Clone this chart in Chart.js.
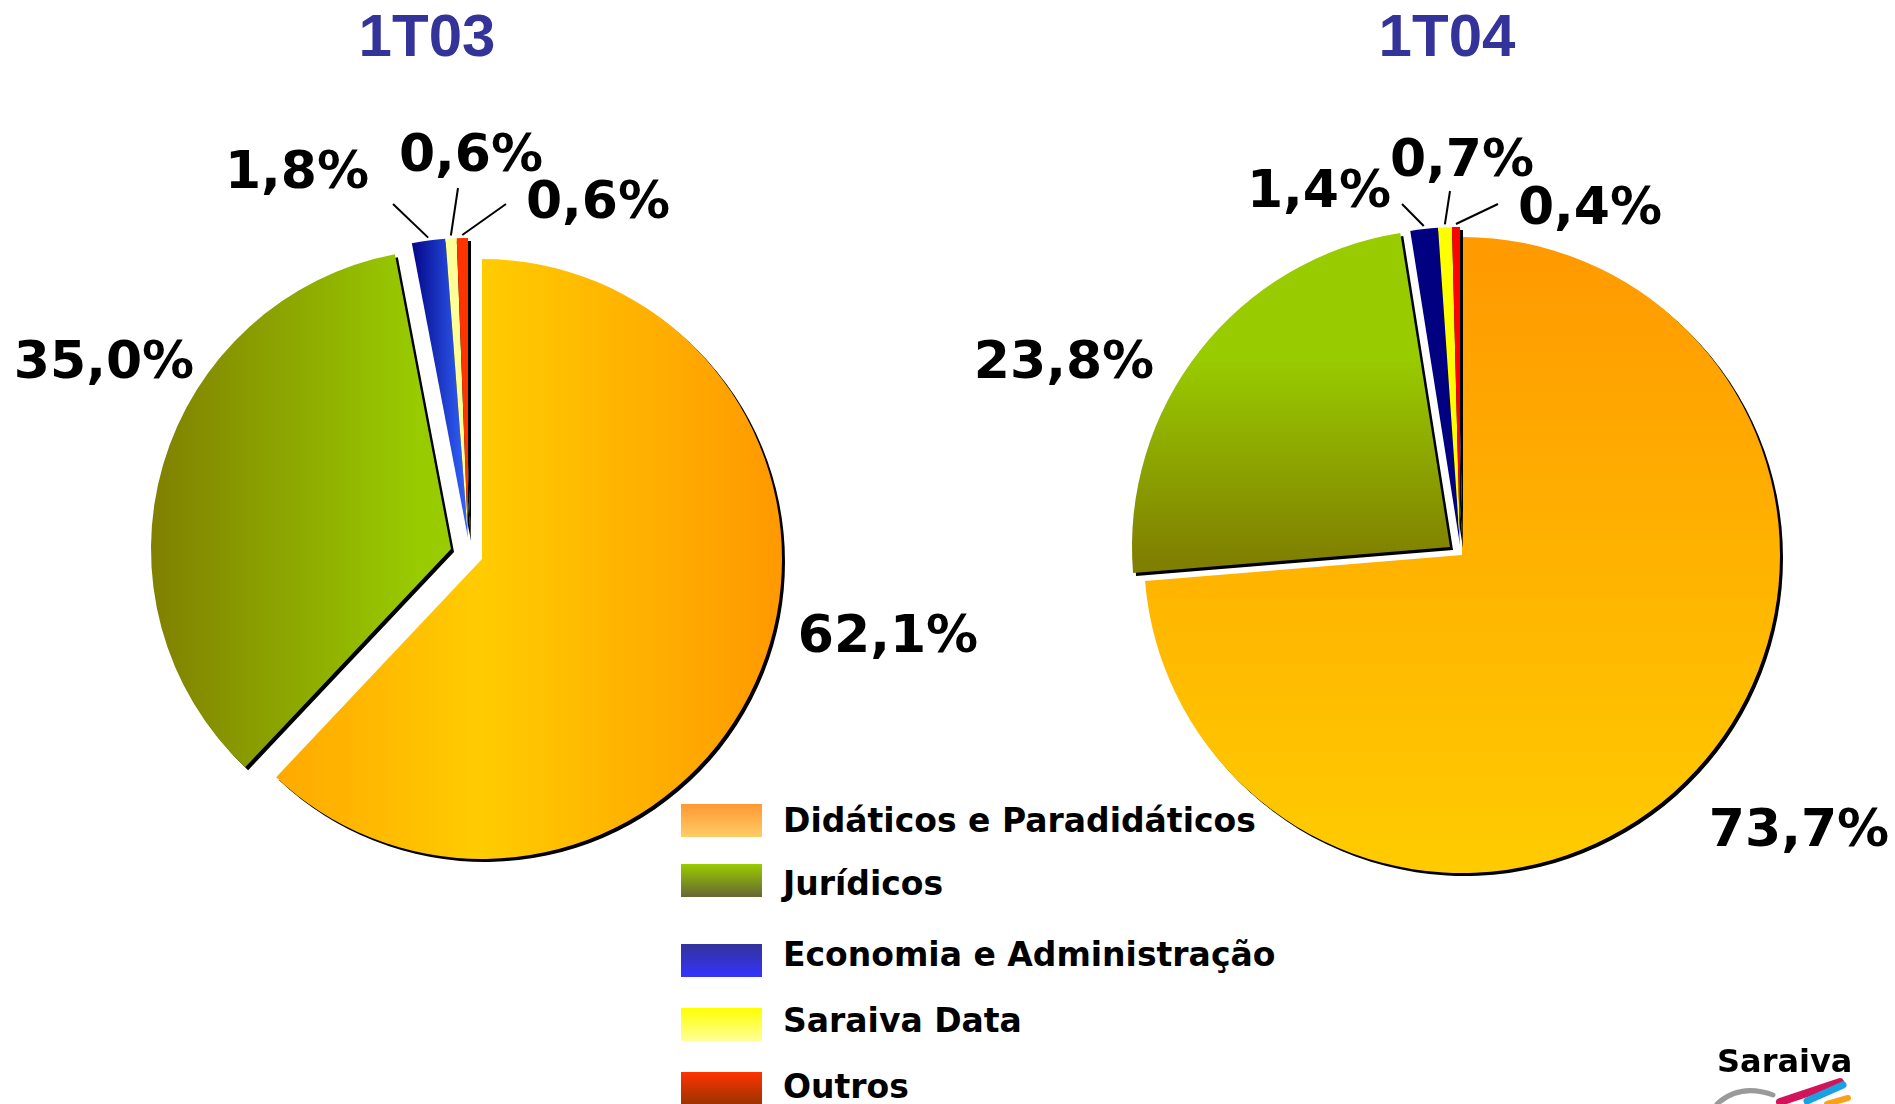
<!DOCTYPE html>
<html lang="pt-BR">
<head>
<meta charset="utf-8">
<title>Vendas por segmento 1T03 x 1T04</title>
<script src="https://cdn.jsdelivr.net/npm/chart.js@4.4.1/dist/chart.umd.min.js"></script>
<style>
  html, body { margin: 0; padding: 0; background: #fff; }
  body { position: relative; width: 1895px; height: 1104px; overflow: hidden; font-family: "DejaVu Sans", sans-serif; }
  canvas { position: absolute; }
  .periodo { position: absolute; top: 6px; width: 240px; text-align: center; font: bold 60px/60px "Liberation Sans", Arial, sans-serif; color: #333399; }
  .leg-cor { position: absolute; left: 681px; width: 81px; height: 33px; }
  .leg-txt { position: absolute; left: 783px; font: bold 33px/33px "DejaVu Sans", sans-serif; color: #000; white-space: nowrap; }
  .marca { position: absolute; left: 1717px; top: 1045px; font: bold 32px/32px "DejaVu Sans", sans-serif; color: #000; }
  .pinceladas { position: absolute; left: 1700px; top: 1075px; }
</style>
</head>
<body>
<div class="periodo" id="titulo0" style="left:307px"></div>
<div class="periodo" id="titulo1" style="left:1327px"></div>
<div id="legenda"></div>
<canvas id="pie1T03" width="1100" height="1118" style="left:-68px;top:0;width:1100px;height:1118px"></canvas>
<canvas id="pie1T04" width="1000" height="1110" style="left:962px;top:0;width:1000px;height:1110px"></canvas>
<div class="marca">Saraiva</div>
<svg class="pinceladas" width="195" height="29" viewBox="0 0 195 29">
  <path d="M17 29 Q40 8 73 20" stroke="#9a9a9a" stroke-width="5" fill="none" stroke-linecap="round"/>
  <path d="M80 27 L140 7" stroke="#d4145a" stroke-width="8" fill="none" stroke-linecap="round"/>
  <path d="M107 26 L143 10" stroke="#1ba1e2" stroke-width="7" fill="none" stroke-linecap="round"/>
  <path d="M127 29 L148 23" stroke="#f7a21b" stroke-width="6" fill="none" stroke-linecap="round"/>
</svg>
<script>
const periods = ['1T03', '1T04'];
const categories = ['Didáticos e Paradidáticos', 'Jurídicos', 'Economia e Administração', 'Saraiva Data', 'Outros'];
const share1T03 = [62.1, 35.0, 1.8, 0.6, 0.6];
const share1T04 = [73.7, 23.8, 1.4, 0.7, 0.4];

// legenda: cor do topo e da base de cada quadradinho
const legendColors = [
  ['#FF9933', '#FFCC66'],
  ['#99CC00', '#666633'],
  ['#333399', '#3333FF'],
  ['#FFFF00', '#FFFF99'],
  ['#FF3300', '#993300']
];
const legendBoxTop = [804, 864, 944, 1008, 1072];
const legendTextTop = [804, 867, 938, 1004, 1070];

// preenchimento das fatias: gradiente horizontal/vertical sobre o diametro ou cor lisa
const fills1T03 = [
  {dir: 'h', stops: [[0, '#FF9900'], [0.5, '#FFCC00'], [1, '#FF9900']]},
  {dir: 'h', stops: [[0, '#808000'], [0.45, '#99CC00'], [1, '#99CC00']]},
  {dir: 'h', stops: [[0.4, '#000080'], [0.5, '#3366FF']]},
  '#FFFF99',
  '#FF3300'
];
const fills1T04 = [
  {dir: 'v', stops: [[0, '#FF9900'], [1, '#FFCC00']]},
  {dir: 'v', stops: [[0, '#99CC00'], [0.2, '#99CC00'], [0.52, '#808000'], [1, '#808000']]},
  '#000080',
  '#FFFF00',
  '#FF0000'
];

// fatias destacadas (deslocamento em px)
const explode1T03 = [[0, 0], [-31, -10], [-14, -21], [-14, -21], [-14, -21]];
const explode1T04 = [[0, 0], [-12, -8], [-2, -10], [-2, -10], [-2, -10]];

// rotulos e linhas de chamada, relativos ao centro da pizza
const labelPos1T03 = [[406, 74], [-378, -200], [-185, -390], [-11, -407], [116, -360]];
const leaderEnd1T03 = [null, null, [-89, -355], [-24, -371], [24, -355]];
const labelPos1T04 = [[337, 272], [-398, -196], [-143, -367], [0, -398], [128, -350]];
const leaderEnd1T04 = [null, null, [-60, -351], [-12, -364], [36, -351]];

class ExplodedPieController extends Chart.PieController {
  draw() {
    const ctx = this.chart.ctx;
    const shifts = this.getDataset().explode || [];
    this._cachedMeta.data.forEach((arc, i) => {
      const s = shifts[i] || [0, 0];
      ctx.save();
      ctx.translate(s[0], s[1]);
      ctx.shadowColor = '#000';
      ctx.shadowOffsetX = 3;
      ctx.shadowOffsetY = 3;
      arc.draw(ctx, this.chart.chartArea);
      ctx.restore();
    });
  }
}
ExplodedPieController.id = 'explodedPie';
ExplodedPieController.defaults = Chart.PieController.defaults;
Chart.register(ExplodedPieController);

const pctLabels = {
  id: 'pctLabels',
  afterDatasetsDraw(chart) {
    const ctx = chart.ctx;
    const ds = chart.data.datasets[0];
    const arcs = chart.getDatasetMeta(0).data;
    ctx.save();
    ctx.font = 'bold 52px "DejaVu Sans"';
    ctx.textAlign = 'center';
    ctx.textBaseline = 'alphabetic';
    ctx.fillStyle = '#000';
    ctx.strokeStyle = '#000';
    ctx.lineWidth = 2;
    arcs.forEach((arc, i) => {
      const end = ds.leaderEnd[i];
      if (end) {
        const mid = (arc.startAngle + arc.endAngle) / 2;
        const s = ds.explode[i];
        const r = arc.outerRadius + 3;
        ctx.beginPath();
        ctx.moveTo(arc.x + s[0] + Math.cos(mid) * r, arc.y + s[1] + Math.sin(mid) * r);
        ctx.lineTo(arc.x + end[0], arc.y + end[1]);
        ctx.stroke();
      }
      const p = ds.labelPos[i];
      ctx.fillText(ds.data[i].toFixed(1).replace('.', ',') + '%', arc.x + p[0], arc.y + p[1] + 19);
    });
    ctx.restore();
  }
};

function sliceFill(fills, radius) {
  return (c) => {
    const f = fills[c.dataIndex];
    if (!f) return '#ccc';
    if (typeof f === 'string') return f;
    const a = c.chart.chartArea;
    if (!a) return f.stops[0][1];
    const cx = (a.left + a.right) / 2;
    const cy = (a.top + a.bottom) / 2;
    const g = f.dir === 'h'
      ? c.chart.ctx.createLinearGradient(cx - radius, 0, cx + radius, 0)
      : c.chart.ctx.createLinearGradient(0, cy - radius, 0, cy + radius);
    f.stops.forEach(([o, col]) => g.addColorStop(o, col));
    return g;
  };
}

function drawPie(canvasId, values, fills, explode, labelPos, leaderEnd, radius) {
  return new Chart(document.getElementById(canvasId), {
    type: 'explodedPie',
    data: {
      labels: categories,
      datasets: [{
        data: values,
        backgroundColor: sliceFill(fills, radius),
        borderWidth: 0,
        explode: explode,
        labelPos: labelPos,
        leaderEnd: leaderEnd
      }]
    },
    options: {
      responsive: false,
      devicePixelRatio: 1,
      animation: false,
      events: [],
      radius: radius,
      layout: {padding: 0},
      plugins: {legend: {display: false}, tooltip: {enabled: false}}
    },
    plugins: [pctLabels]
  });
}

periods.forEach((p, i) => { document.getElementById('titulo' + i).textContent = p; });

const legend = document.getElementById('legenda');
categories.forEach((name, i) => {
  const box = document.createElement('div');
  box.className = 'leg-cor';
  box.style.top = legendBoxTop[i] + 'px';
  box.style.background = 'linear-gradient(' + legendColors[i][0] + ', ' + legendColors[i][1] + ')';
  const txt = document.createElement('div');
  txt.className = 'leg-txt';
  txt.style.top = legendTextTop[i] + 'px';
  txt.textContent = name;
  legend.append(box, txt);
});

drawPie('pie1T03', share1T03, fills1T03, explode1T03, labelPos1T03, leaderEnd1T03, 300);
drawPie('pie1T04', share1T04, fills1T04, explode1T04, labelPos1T04, leaderEnd1T04, 318);
</script>
</body>
</html>
